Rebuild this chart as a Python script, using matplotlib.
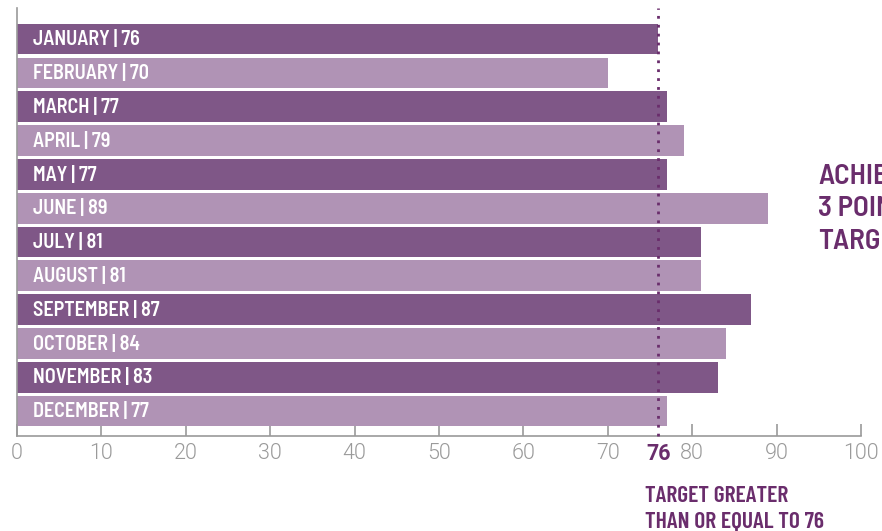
import matplotlib
matplotlib.use("Agg")
import matplotlib.pyplot as plt

months = ["JANUARY", "FEBRUARY", "MARCH", "APRIL", "MAY", "JUNE", "JULY",
          "AUGUST", "SEPTEMBER", "OCTOBER", "NOVEMBER", "DECEMBER"]
values = [76, 70, 77, 79, 77, 89, 81, 81, 87, 84, 83, 77]
target = 76
xticks = [0, 10, 20, 30, 40, 50, 60, 70, 80, 90, 100]

dark = "#7f5787"
light = "#b093b5"
txt_purple = "#6a2d6c"
gray = "#9a9a9a"

cond = ["Barlow Condensed", "DejaVu Sans"]
semi = ["Barlow Semi Condensed", "Barlow Condensed", "DejaVu Sans"]
tickf = ["Roboto", "DejaVu Sans"]

fig = plt.figure(figsize=(8.82, 5.31), dpi=100)
ax = fig.add_axes([17/882, 1-436/531, (861-17)/882, (436-8)/531])

ypos = list(range(len(months)))
colors = [dark if i % 2 == 0 else light for i in ypos]
ax.barh(ypos, values, height=0.91, color=colors, zorder=2)

for i, (m, v) in enumerate(zip(months, values)):
    ax.text(1.9, i + 0.02, f"{m} | {v}", color="white", fontsize=14.5, fontweight=600,
            family=semi, va="center", ha="left", zorder=3)

ax.axvline(target, color=txt_purple, linestyle=(0, (1, 2.2)), linewidth=2, zorder=4, clip_on=False)

ax.set_xlim(0, 100)
ax.set_ylim(11.74, -0.92)
for s in ["top", "right"]:
    ax.spines[s].set_visible(False)
for s in ["left", "bottom"]:
    ax.spines[s].set_color(gray)
    ax.spines[s].set_linewidth(1.2)
ax.set_yticks([])

all_ticks = sorted(xticks + [target])
ax.set_xticks(all_ticks)
ax.set_xticklabels([str(t) for t in all_ticks], family=tickf, fontweight=300,
                   fontsize=15.5, color=gray)
ax.tick_params(axis="x", direction="in", length=9, width=1.2, color=gray, pad=5)
idx = all_ticks.index(target)
tk = ax.xaxis.get_major_ticks()[idx]
tk.tick1line.set_visible(False)
lab = ax.get_xticklabels()[idx]
lab.set_color(txt_purple)
lab.set_fontweight("bold")

fig.text(645/882, 1-509/531, "TARGET GREATER\nTHAN OR EQUAL TO 76", ha="left", va="center",
         fontsize=17, fontweight=600, color=txt_purple, family=cond, linespacing=1.32)

fig.text(818/882, 1-209/531, "ACHIEVED\n3 POINTS ABOVE\nTARGET", ha="left", va="center",
         fontsize=21, fontweight=600, color=txt_purple, family=semi, linespacing=1.36)

fig.savefig("out.png", dpi=100)
